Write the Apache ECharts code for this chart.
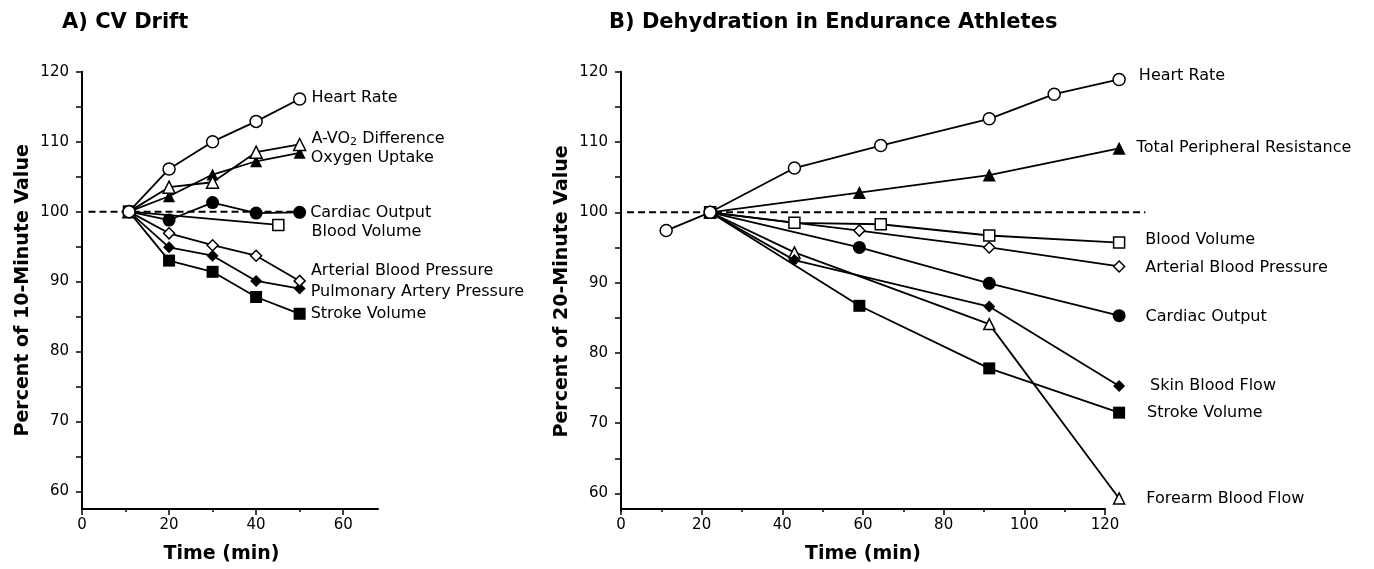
<!DOCTYPE html>
<html>
<head>
<meta charset="utf-8">
<script src="https://cdn.jsdelivr.net/npm/echarts@6/dist/echarts.min.js"></script>
<style>
  html, body { margin: 0; padding: 0; background: #fff; }
  #main { width: 1374px; height: 569px; }
</style>
</head>
<body>
<div id="main"></div>
<script>
// panel A: CV drift (percent of 10-minute value)
const timeA = [10.8, 20, 30, 40, 50];
const hrA = [100, 106.1, 110.0, 112.9, 116.1];
const avo2A = [100, 103.5, 104.2, 108.5, 109.6];
const vo2A = [100, 102.2, 105.3, 107.2, 108.4];
const coA = [100, 98.8, 101.3, 99.8, 99.9];
const bvTimeA = [10.8, 45.1];
const bvA = [100, 98.1];
const abpA = [100, 96.9, 95.2, 93.7, 90.1];
const papA = [100, 94.9, 93.7, 90.1, 89.0];
const svA = [100, 93.0, 91.4, 87.8, 85.4];
const refTimeA = [1.5, 50];

// panel B: dehydration (percent of 20-minute value)
const hrTimeB = [11.2, 22.1, 43.0, 64.4, 91.3, 107.4, 123.5];
const hrB = [97.4, 100, 106.3, 109.5, 113.3, 116.8, 118.9];
const tprTimeB = [22.1, 59.1, 91.3, 123.5];
const tprB = [100, 102.8, 105.3, 109.1];
const bvTimeB = [22.1, 43.0, 64.4, 91.3, 123.5];
const bvB = [100, 98.5, 98.3, 96.7, 95.7];
const abpTimeB = [22.1, 59.1, 91.3, 123.5];
const abpB = [100, 97.4, 95.0, 92.3];
const coTimeB = [22.1, 59.1, 91.3, 123.5];
const coB = [100, 95.0, 89.9, 85.3];
const sbfTimeB = [22.1, 43.0, 91.3, 123.5];
const sbfB = [100, 93.2, 86.6, 75.3];
const fbfTimeB = [22.1, 43.0, 91.3, 123.5];
const fbfB = [100, 94.3, 84.1, 59.3];
const svTimeB = [22.1, 59.1, 91.3, 123.5];
const svB = [100, 86.7, 77.8, 71.5];
const refTimeB = [1.5, 130];
const refValue = 100;

const yTicks = [60, 65, 70, 75, 80, 85, 90, 95, 100, 105, 110, 115, 120];
const yLabels = [60, 70, 80, 90, 100, 110, 120];
const xLabelsA = [0, 20, 40, 60];
const xMinorA = [10, 30, 50];
const xLabelsB = [0, 20, 40, 60, 80, 100, 120];
const xMinorB = [10, 30, 50, 70, 90, 110];

const FONT = 'DejaVu Sans';

const pairs = (xs, ys) => xs.map((x, i) => [x, ys[i]]);

// symbol presets
const openMk = { color: '#fff', borderColor: '#000', borderWidth: 1.5 };
const fillMk = { color: '#000', borderColor: '#000', borderWidth: 0 };

// panel B data is drawn in a wider grid so the lines can run past the 120 end of the axis
function line(gi, name, xs, ys, symbol, size, open, lbl, z) {
  const n = xs.length;
  return {
    name: name,
    type: 'line',
    xAxisIndex: gi === 0 ? 0 : 2,
    yAxisIndex: gi,
    data: pairs(xs, ys),
    symbol: symbol,
    symbolSize: size,
    showAllSymbol: true,
    clip: false,
    z: z || 2,
    lineStyle: { color: '#000', width: 1.8 },
    itemStyle: open ? openMk : fillMk,
    label: {
      show: true,
      position: 'right',
      distance: 0,
      offset: [lbl.dx, lbl.dy],
      color: '#000',
      fontFamily: FONT,
      fontSize: 16,
      formatter: p => p.dataIndex === n - 1 ? lbl.text : '',
      rich: lbl.rich
    },
    emphasis: { disabled: true }
  };
}

function refLine(gi, xs) {
  return {
    type: 'line',
    xAxisIndex: gi === 0 ? 0 : 2,
    yAxisIndex: gi,
    data: xs.map(x => [x, refValue]),
    symbol: 'none',
    clip: false,
    z: 1,
    lineStyle: { color: '#000', width: 2, type: [7, 4] },
    emphasis: { disabled: true }
  };
}

function yAx(gi, name) {
  return {
    type: 'value',
    gridIndex: gi,
    min: 57.5,
    max: 120,
    name: name,
    nameLocation: 'middle',
    nameGap: 49,
    nameTextStyle: { fontFamily: FONT, fontWeight: 'bold', fontSize: 19, color: '#000' },
    axisLine: { show: true, lineStyle: { color: '#000', width: 2 } },
    axisTick: { show: true, length: 6, customValues: yTicks, lineStyle: { color: '#000', width: 1.5 } },
    axisLabel: { customValues: yLabels, margin: 13, fontFamily: FONT, fontSize: 15, color: '#000' },
    splitLine: { show: false }
  };
}

function xAx(gi, max, labels, pad) {
  return {
    type: 'value',
    gridIndex: gi,
    min: 0,
    max: max,
    name: 'Time (min)',
    nameLocation: 'middle',
    nameGap: 36,
    nameTextStyle: { fontFamily: FONT, fontWeight: 'bold', fontSize: 19, color: '#000', padding: pad },
    axisLine: { show: true, onZero: false, lineStyle: { color: '#000', width: 2 } },
    axisTick: { show: true, length: 6, customValues: labels, lineStyle: { color: '#000', width: 1.5 } },
    axisLabel: { customValues: labels, margin: 9, fontFamily: FONT, fontSize: 15, color: '#000' },
    splitLine: { show: false }
  };
}

function xMinor(gi, max, ticks) {
  return {
    type: 'value',
    gridIndex: gi,
    position: 'bottom',
    min: 0,
    max: max,
    axisLine: { show: false },
    axisTick: { show: true, length: 3, customValues: ticks, lineStyle: { color: '#000', width: 1.5 } },
    axisLabel: { show: false },
    splitLine: { show: false }
  };
}

const chart = echarts.init(document.getElementById('main'));

chart.setOption({
  animation: false,
  backgroundColor: '#fff',
  title: [
    { text: 'A) CV Drift', left: 62, top: 12, padding: 0,
      textStyle: { fontFamily: FONT, fontWeight: 'bold', fontSize: 21, color: '#000' } },
    { text: 'B) Dehydration in Endurance Athletes', left: 609, top: 12, padding: 0,
      textStyle: { fontFamily: FONT, fontWeight: 'bold', fontSize: 21, color: '#000' } }
  ],
  grid: [
    { left: 82, top: 71.7, width: 296, height: 439.4 },
    { left: 621, top: 71.7, width: 131 * 484 / 120, height: 439.4 },
    { left: 621, top: 71.7, width: 484, height: 439.4 }
  ],
  xAxis: [
    xAx(0, 68, xLabelsA, [0, 17, 0, 0]),
    xMinor(0, 68, xMinorA),
    { type: 'value', gridIndex: 1, min: 0, max: 131, show: false },
    xAx(2, 120, xLabelsB, 0),
    xMinor(2, 120, xMinorB)
  ],
  yAxis: [
    yAx(0, 'Percent of 10-Minute Value'),
    yAx(1, 'Percent of 20-Minute Value'),
    { type: 'value', gridIndex: 2, min: 57.5, max: 120, show: false }
  ],
  series: [
    refLine(0, refTimeA),
    line(0, 'Stroke Volume', timeA, svA, 'rect', 12, false, { text: 'Stroke Volume', dx: 5, dy: 0 }),
    line(0, 'Pulmonary Artery Pressure', timeA, papA, 'diamond', 12, false, { text: 'Pulmonary Artery Pressure', dx: 5, dy: 3 }),
    line(0, 'Arterial Blood Pressure', timeA, abpA, 'diamond', 11, true, { text: 'Arterial Blood Pressure', dx: 5, dy: -10 }),
    line(0, 'Blood Volume', bvTimeA, bvA, 'rect', 11, true, { text: 'Blood Volume', dx: 27, dy: 7 }),
    line(0, 'Cardiac Output', timeA, coA, 'circle', 13, false, { text: 'Cardiac Output', dx: 4, dy: 1 }),
    line(0, 'Oxygen Uptake', timeA, vo2A, 'triangle', 12, false, { text: 'Oxygen Uptake', dx: 5, dy: 5 }),
    line(0, 'A-VO2 Difference', timeA, avo2A, 'triangle', 12, true, {
      text: 'A-VO{sub|2} Difference', dx: 5, dy: -6,
      rich: { sub: { fontFamily: FONT, fontSize: 11, color: '#000', padding: [8, 0, 0, 0] } }
    }),
    line(0, 'Heart Rate', timeA, hrA, 'circle', 12, true, { text: 'Heart Rate', dx: 5, dy: -1 }, 5),

    refLine(1, refTimeB),
    line(1, 'Forearm Blood Flow', fbfTimeB, fbfB, 'triangle', 11, true, { text: 'Forearm Blood Flow', dx: 21, dy: 0 }),
    line(1, 'Stroke Volume', svTimeB, svB, 'rect', 12, false, { text: 'Stroke Volume', dx: 22, dy: 0 }),
    line(1, 'Skin Blood Flow', sbfTimeB, sbfB, 'diamond', 12, false, { text: 'Skin Blood Flow', dx: 25, dy: 0 }),
    line(1, 'Cardiac Output', coTimeB, coB, 'circle', 13, false, { text: 'Cardiac Output', dx: 20, dy: 1 }),
    line(1, 'Arterial Blood Pressure', abpTimeB, abpB, 'diamond', 11, true, { text: 'Arterial Blood Pressure', dx: 20, dy: 1 }),
    line(1, 'Blood Volume', bvTimeB, bvB, 'rect', 11, true, { text: 'Blood Volume', dx: 20, dy: -3 }),
    line(1, 'Total Peripheral Resistance', tprTimeB, tprB, 'triangle', 13, false, { text: 'Total Peripheral Resistance', dx: 11, dy: 0 }),
    line(1, 'Heart Rate', hrTimeB, hrB, 'circle', 12, true, { text: 'Heart Rate', dx: 13, dy: -4 }, 5)
  ]
});
</script>
</body>
</html>
